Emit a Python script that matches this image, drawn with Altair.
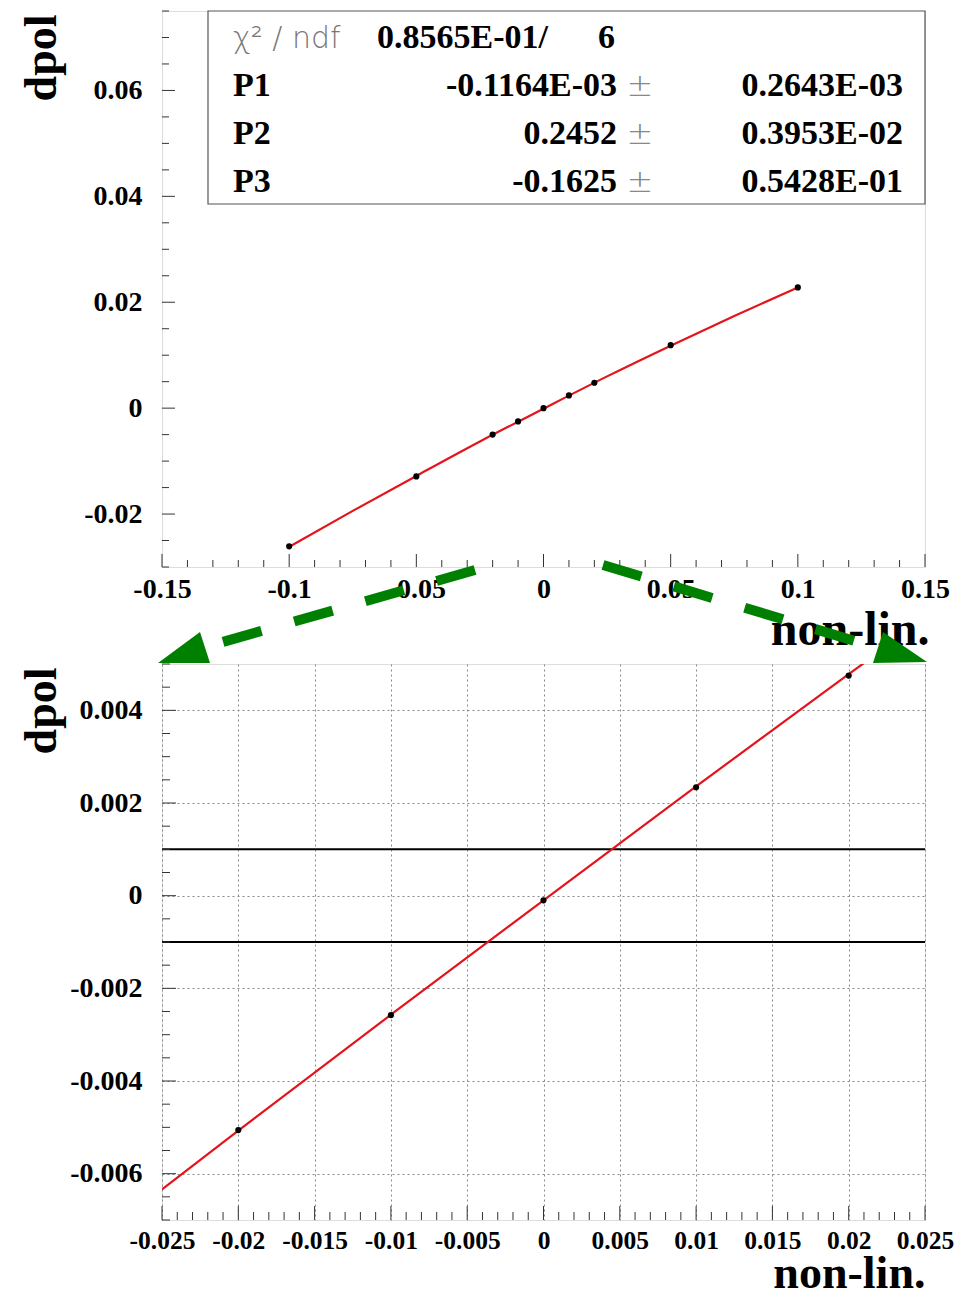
import altair as alt
import pandas as pd
import numpy as np

# ---------------- data ----------------
top_x = [-0.1, -0.05, -0.02, -0.01, 0.0, 0.01, 0.02, 0.05, 0.1]
top_y = [-0.0261, -0.0129, -0.0050, -0.0025, 0.0, 0.0024, 0.0048, 0.0119, 0.0228]
top_fit_x = [-0.1, -0.075, -0.05, -0.025, 0.0, 0.025, 0.05, 0.075, 0.1]
top_fit_y = [-0.0262, -0.0194, -0.0128, -0.0063, -0.0001, 0.0060, 0.0118, 0.0174, 0.0228]

bot_x = [-0.02, -0.01, 0.0, 0.01, 0.02]
bot_y = [-0.00506, -0.00258, -0.00010, 0.00234, 0.00475]
bot_fit_x = [-0.025, -0.02, -0.01, 0.0, 0.01, 0.02, 0.025]
bot_fit_y = [-0.00634, -0.00507, -0.00257, -0.00010, 0.00236, 0.00478, 0.00598]
band_y = [-0.001, 0.001]

# tick labels
top_x_major = [-0.15, -0.1, -0.05, 0.0, 0.05, 0.1, 0.15]
top_y_major = [-0.02, 0.0, 0.02, 0.04, 0.06]
bot_x_major = [-0.025, -0.02, -0.015, -0.01, -0.005, 0.0, 0.005, 0.01, 0.015, 0.02, 0.025]
bot_y_major = [-0.006, -0.004, -0.002, 0.0, 0.002, 0.004]

# fit statistics box
chi_label = "χ² / ndf"
chi_value = "0.8565E-01/"
ndf_value = "6"
par_names = ["P1", "P2", "P3"]
par_values = ["-0.1164E-03", "0.2452", "-0.1625"]
par_errors = ["0.2643E-03", "0.3953E-02", "0.5428E-01"]

x_title = "non-lin."
y_title = "dpol"

# ---------------- styling ----------------
W, H = 763, 556
SERIF = "Liberation Serif"
RED = "#e3141b"
GREEN = "#008000"
TICK = "#333333"
FRAME = "#555555"


def minor(lo, hi, step, majors):
    vals = np.round(np.arange(lo, hi + step / 2, step), 6)
    return [float(v) for v in vals if not any(abs(v - m) < step / 10 for m in majors)]


def axis_x(values, grid, title_y, title_x, lsize, tsize):
    return alt.Axis(values=values, grid=grid, gridDash=[2, 3], gridColor="#888888", gridWidth=1,
                    ticks=False, tickSize=0, domain=False,
                    labelExpr="'' + datum.value", labelFont=SERIF, labelFontWeight="bold",
                    labelFontSize=lsize, labelColor="black", labelPadding=8, labelFlush=False,
                    labelOverlap=False,
                    title=x_title, titleFont=SERIF, titleFontWeight="bold", titleFontSize=tsize,
                    titleColor="black", titleX=title_x, titleY=title_y, titleAlign="right",
                    titleBaseline="alphabetic", titleAngle=0)


def axis_y(values, grid):
    return alt.Axis(values=values, grid=grid, gridDash=[2, 3], gridColor="#888888", gridWidth=1,
                    ticks=False, tickSize=0, domain=False,
                    labelExpr="'' + datum.value", labelFont=SERIF, labelFontWeight="bold",
                    labelFontSize=28, labelColor="black", labelPadding=20, labelFlush=False,
                    labelOverlap=False,
                    title=y_title, titleFont=SERIF, titleFontWeight="bold", titleFontSize=46,
                    titleColor="black", titleAngle=270, titleX=-107, titleY=3,
                    titleAlign="right", titleBaseline="alphabetic")


def tick_layers(X, Y, xmaj, xmin, ymaj, ymin, big=13, small=7):
    layers = []
    for vals, size in [(xmaj, big), (xmin, small)]:
        layers.append(
            alt.Chart(pd.DataFrame({"x": vals})).mark_tick(
                orient="vertical", size=size, thickness=1, yOffset=-size / 2, color=TICK, opacity=1
            ).encode(x=X, y=alt.value(H))
        )
    for vals, size in [(ymaj, big), (ymin, small)]:
        layers.append(
            alt.Chart(pd.DataFrame({"y": vals})).mark_tick(
                orient="horizontal", size=size, thickness=1, xOffset=size / 2, color=TICK, opacity=1
            ).encode(y=Y, x=alt.value(0))
        )
    return layers


one = pd.DataFrame({"k": [0]})


def txt(s, x, y, align="left", size=34, color="black", weight="bold", font=SERIF):
    return alt.Chart(one).mark_text(
        align=align, baseline="alphabetic", fontSize=size, font=font, fontWeight=weight, color=color
    ).encode(x=alt.value(x), y=alt.value(y), text=alt.value(s))


# ---------------- top panel ----------------
sx_t = alt.Scale(domain=[-0.15, 0.15], nice=False, zero=False)
sy_t = alt.Scale(domain=[-0.03, 0.075], nice=False, zero=False)
Xt = alt.X("x:Q", scale=sx_t, axis=axis_x(top_x_major, False, 77, W + 4, 28, 48))
Yt = alt.Y("y:Q", scale=sy_t, axis=axis_y(top_y_major, False))

top_fit = alt.Chart(pd.DataFrame({"x": top_fit_x, "y": top_fit_y})).mark_line(
    color=RED, strokeWidth=2.2, interpolate="monotone"
).encode(x=Xt, y=Yt)
top_pts = alt.Chart(pd.DataFrame({"x": top_x, "y": top_y})).mark_circle(
    size=38, color="black", opacity=1
).encode(x=Xt, y=Yt)

box = alt.Chart(one).mark_rect(fill="white", stroke=FRAME, strokeWidth=1.2).encode(
    x=alt.value(46), x2=alt.value(W), y=alt.value(0), y2=alt.value(193)
)

stats = [
    txt(chi_label, 71, 37, size=30, color="#777777", weight=300, font="DejaVu Sans"),
    txt(chi_value, 215, 37),
    txt(ndf_value, 453, 37, align="right"),
]
for i, (n, v, e) in enumerate(zip(par_names, par_values, par_errors)):
    yb = 85 + 48 * i
    stats += [
        txt(n, 71, yb),
        txt(v, 455, yb, align="right"),
        txt("±", 478, yb, align="center", size=32, color="#888888", weight=300, font="DejaVu Sans"),
        txt(e, 741, yb, align="right"),
    ]

# green dashed zoom arrows (decoration, in pixel units)
arrow1 = alt.Chart(one).mark_rule(
    color=GREEN, strokeWidth=10, strokeDash=[40, 34], strokeCap="butt"
).encode(x=alt.value(313), y=alt.value(559), x2=alt.value(43), y2=alt.value(636))
head1 = alt.Chart(one).mark_point(
    shape="M-4,652L38,621L48,652Z", size=4, filled=True, color=GREEN, opacity=1, strokeWidth=0
).encode(x=alt.value(0), y=alt.value(0))
arrow2 = alt.Chart(one).mark_rule(
    color=GREEN, strokeWidth=10, strokeDash=[40, 34], strokeCap="butt"
).encode(x=alt.value(441), y=alt.value(554), x2=alt.value(716), y2=alt.value(637))
head2 = alt.Chart(one).mark_point(
    shape="M711,652L721,621L765,651Z", size=4, filled=True, color=GREEN, opacity=1, strokeWidth=0
).encode(x=alt.value(0), y=alt.value(0))

top = alt.layer(
    top_fit, top_pts,
    *tick_layers(Xt, Yt, top_x_major, minor(-0.15, 0.15, 0.01, top_x_major),
                 top_y_major, minor(-0.03, 0.075, 0.005, top_y_major)),
    box, *stats, arrow1, head1, arrow2, head2,
).properties(width=W, height=H)

# ---------------- bottom panel ----------------
sx_b = alt.Scale(domain=[-0.025, 0.025], nice=False, zero=False)
sy_b = alt.Scale(domain=[-0.007, 0.005], nice=False, zero=False)
Xb = alt.X("x:Q", scale=sx_b, axis=axis_x(bot_x_major, True, 67, W, 25.5, 46))
Yb = alt.Y("y:Q", scale=sy_b, axis=axis_y(bot_y_major, True))

bands = alt.Chart(pd.DataFrame({"y": band_y})).mark_rule(color="black", strokeWidth=2).encode(y=Yb)
bot_fit = alt.Chart(pd.DataFrame({"x": bot_fit_x, "y": bot_fit_y})).mark_line(
    color=RED, strokeWidth=2.2, clip=True
).encode(x=Xb, y=Yb)
bot_pts = alt.Chart(pd.DataFrame({"x": bot_x, "y": bot_y})).mark_circle(
    size=38, color="black", opacity=1
).encode(x=Xb, y=Yb)

bottom = alt.layer(
    bands, bot_fit, bot_pts,
    *tick_layers(Xb, Yb, bot_x_major, minor(-0.025, 0.025, 0.001, bot_x_major),
                 bot_y_major, minor(-0.007, 0.005, 0.0005, bot_y_major), big=14, small=8),
).properties(width=W, height=H)

chart = alt.vconcat(top, bottom, spacing=97, bounds="flush").properties(
    padding={"left": 9, "top": 1, "right": 5, "bottom": 0}
).configure_view(stroke=FRAME, strokeWidth=1.2).configure(background="white")

chart.save("out.html", embed_options={"renderer": "svg", "actions": False})
